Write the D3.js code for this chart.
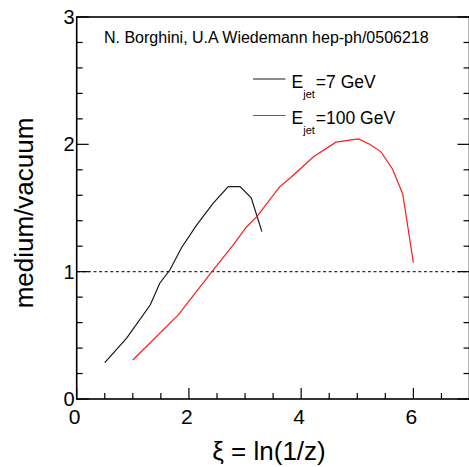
<!DOCTYPE html>
<html>
<head>
<meta charset="utf-8">
<script src="https://cdn.jsdelivr.net/npm/d3@7"></script>
<style>
  body { margin: 0; background: #fff; }
  svg { display: block; font-family: "Liberation Sans", Arial, Helvetica, sans-serif; }
</style>
</head>
<body>
<svg id="chart" width="469" height="467"></svg>
<script>
// curve values (xi, medium/vacuum)
var jet7X   = [0.50, 0.89, 1.31, 1.48, 1.66, 1.87, 2.14, 2.43, 2.70, 2.91, 3.11, 3.30];
var jet7Y   = [0.285, 0.478, 0.738, 0.909, 1.013, 1.19, 1.367, 1.537, 1.668, 1.668, 1.58, 1.314];
var jet100X = [1.00, 1.81, 2.41, 2.79, 3.03, 3.21, 3.62, 3.80, 4.22, 4.62, 5.02, 5.22, 5.42, 5.63, 5.81, 6.00];
var jet100Y = [0.306, 0.66, 1.00, 1.21, 1.353, 1.432, 1.668, 1.734, 1.903, 2.017, 2.042, 2.00, 1.943, 1.804, 1.61, 1.07];

var xMajor = [0, 2, 4, 6];
var xMinor = [0.5, 1, 1.5, 2.5, 3, 3.5, 4.5, 5, 5.5, 6.5];
var yMajor = [0, 1, 2, 3];
var yMinor = [0.2, 0.4, 0.6, 0.8, 1.2, 1.4, 1.6, 1.8, 2.2, 2.4, 2.6, 2.8];

var legendLabels = ["=7 GeV", "=100 GeV"];
var lineColors = ["#1a1a1a", "#ff1a1a"];
var titleText = "N. Borghini, U.A Wiedemann hep-ph/0506218";

var margin = {top: 17, right: 0, bottom: 68, left: 76.7};
var width = 469.5 - margin.left;
var height = 399 - margin.top;

var svg = d3.select("#chart");
var g = svg.append("g")
	.attr("transform", "translate(" + margin.left + "," + margin.top + ")");

var x = d3.scaleLinear().domain([0, 7]).range([0, width]);
var y = d3.scaleLinear().domain([0, 3]).range([height, 0]);

//reference line at 1
g.append("line")
	.attr("x1", 0).attr("x2", width)
	.attr("y1", y(1)).attr("y2", y(1))
	.attr("stroke", "#333")
	.attr("stroke-width", 1.2)
	.attr("stroke-dasharray", "3,2.6");

//curves
var line = d3.line()
	.x(function(d) { return x(d[0]); })
	.y(function(d) { return y(d[1]); });

var series = [d3.zip(jet7X, jet7Y), d3.zip(jet100X, jet100Y)];
series.forEach(function(s, i) {
	g.append("path")
		.datum(s)
		.attr("d", line)
		.attr("fill", "none")
		.attr("stroke", lineColors[i])
		.attr("stroke-width", 1.2);
});

//frame
g.append("rect")
	.attr("width", width).attr("height", height)
	.attr("fill", "none")
	.attr("stroke", "#000")
	.attr("stroke-width", 1.6);

//ticks: bottom axis, left and mirrored right
function xTicks(vals, len) {
	g.selectAll(null).data(vals).enter().append("line")
		.attr("x1", function(d) { return x(d); })
		.attr("x2", function(d) { return x(d); })
		.attr("y1", height).attr("y2", height - len)
		.attr("stroke", "#000").attr("stroke-width", 1.2);
}
function yTicks(vals, len) {
	g.selectAll(null).data(vals).enter().append("line")
		.attr("x1", 0).attr("x2", len)
		.attr("y1", function(d) { return y(d); })
		.attr("y2", function(d) { return y(d); })
		.attr("stroke", "#000").attr("stroke-width", 1.2);
	g.selectAll(null).data(vals).enter().append("line")
		.attr("x1", width - len).attr("x2", width)
		.attr("y1", function(d) { return y(d); })
		.attr("y2", function(d) { return y(d); })
		.attr("stroke", "#000").attr("stroke-width", 1.2);
}
xTicks(xMajor, 11);
xTicks(xMinor, 6);
yTicks(yMajor, 12);
yTicks(yMinor, 6);

//tick labels
g.selectAll(null).data(xMajor).enter().append("text")
	.attr("x", function(d) { return x(d) - 2; })
	.attr("y", height + 24.5)
	.attr("text-anchor", "middle")
	.attr("font-size", "21px")
	.text(function(d) { return d; });

g.selectAll(null).data(yMajor).enter().append("text")
	.attr("x", -2)
	.attr("y", function(d) { return y(d) + 7; })
	.attr("text-anchor", "end")
	.attr("font-size", "20px")
	.text(function(d) { return d; });

//axis titles
svg.append("text")
	.attr("x", 269)
	.attr("y", 460)
	.attr("text-anchor", "middle")
	.attr("font-size", "26px")
	.text("\u03be = ln(1/z)");

svg.append("text")
	.attr("transform", "translate(33,213) rotate(-90)")
	.attr("text-anchor", "middle")
	.attr("font-size", "26px")
	.text("medium/vacuum");

//credit
svg.append("text")
	.attr("x", 104)
	.attr("y", 42.5)
	.attr("font-size", "16px")
	.text(titleText);

//legend
legendLabels.forEach(function(lbl, i) {
	var ly = 79 + i * 36.5;
	svg.append("line")
		.attr("x1", 253).attr("x2", 285.5)
		.attr("y1", ly).attr("y2", ly)
		.attr("stroke", lineColors[i])
		.attr("stroke-width", 1.2);
	var t = svg.append("text")
		.attr("x", 291.5)
		.attr("y", ly + 8.5)
		.attr("font-size", "17.5px");
	t.append("tspan").text("E");
	t.append("tspan")
		.attr("font-size", "11px")
		.attr("dy", 10)
		.text("jet");
	t.append("tspan")
		.attr("dy", -10)
		.attr("dx", 1)
		.text(lbl);
});
</script>
</body>
</html>
